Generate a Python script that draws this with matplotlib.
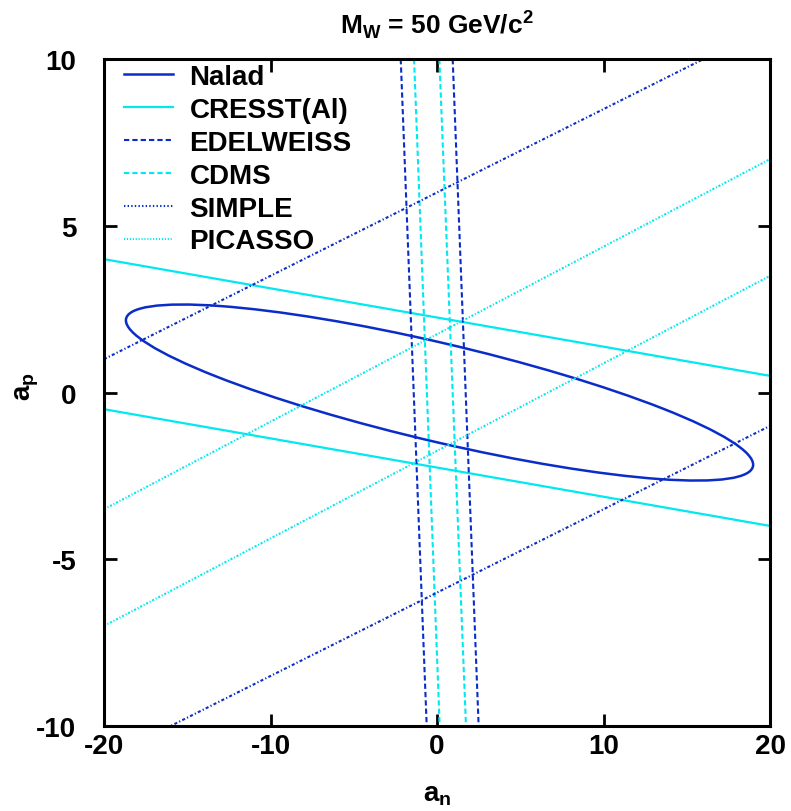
# exclusion bands in the (a_n, a_p) plane, M_W = 50 GeV/c^2

import matplotlib
matplotlib.use('Agg')
from matplotlib import pyplot as plt
from matplotlib.patches import Ellipse
from matplotlib.lines import Line2D

plt.rcParams['font.family'] = ['Liberation Sans', 'DejaVu Sans']
plt.rcParams['font.weight'] = 'bold'
plt.rcParams['lines.scale_dashes'] = False
plt.rcParams['axes.unicode_minus'] = False

dark = '#0a2cc8'
cyan = '#00e8f0'

# Nalad ellipse (centre, semi-axes, tilt in degrees)
nalad_center = (0.15, 0.0)
nalad_semi = (18.96, 1.50)
nalad_angle = -6.6

# bands given by their edges, a_p at a_n = -20 and 20
band_x = [-20, 20]
cresst_upper = [4.0, 0.5]
cresst_lower = [-0.5, -4.0]
simple_upper = [1.0, 11.0]
simple_lower = [-11.0, -1.0]
picasso_upper = [-3.5, 7.0]
picasso_lower = [-7.0, 3.5]

# nearly vertical bands, a_n at a_p = 10 and -10
band_y = [10, -10]
edelweiss_left = [-2.18, -0.62]
edelweiss_right = [0.94, 2.50]
cdms_left = [-1.38, 0.16]
cdms_right = [0.14, 1.74]

labels = ['Nalad', 'CRESST(Al)', 'EDELWEISS', 'CDMS', 'SIMPLE', 'PICASSO']

fig = plt.figure(figsize=(7.91, 8.12), dpi=100)
ax = fig.add_axes([0.1315, 0.1047, 0.842, 0.8213])

ell = Ellipse(nalad_center, 2 * nalad_semi[0], 2 * nalad_semi[1], angle=nalad_angle,
              fill=False, edgecolor=dark, lw=1.8)
ax.add_patch(ell)

dash = (0, (3.8, 2.2))
simple_ls = (0, (2.2, 1.6, 0.9, 1.6))
picasso_ls = (0, (1.5, 1.3, 0.8, 1.3))

ax.plot(band_x, cresst_upper, color=cyan, lw=1.6)
ax.plot(band_x, cresst_lower, color=cyan, lw=1.6)
ax.plot(edelweiss_left, band_y, color=dark, lw=1.5, ls=dash)
ax.plot(edelweiss_right, band_y, color=dark, lw=1.5, ls=dash)
ax.plot(cdms_left, band_y, color=cyan, lw=1.5, ls=dash)
ax.plot(cdms_right, band_y, color=cyan, lw=1.5, ls=dash)
ax.plot(band_x, simple_upper, color=dark, lw=1.5, ls=simple_ls)
ax.plot(band_x, simple_lower, color=dark, lw=1.5, ls=simple_ls)
ax.plot(band_x, picasso_upper, color=cyan, lw=1.5, ls=picasso_ls)
ax.plot(band_x, picasso_lower, color=cyan, lw=1.5, ls=picasso_ls)

handles = [Line2D([], [], color=dark, lw=1.8),
           Line2D([], [], color=cyan, lw=1.6),
           Line2D([], [], color=dark, lw=1.5, ls=dash),
           Line2D([], [], color=cyan, lw=1.5, ls=dash),
           Line2D([], [], color=dark, lw=1.5, ls=(0, (1.0, 1.6))),
           Line2D([], [], color=cyan, lw=1.5, ls=(0, (0.8, 1.3)))]
ax.legend(handles, labels, loc='upper left', bbox_to_anchor=(0.03, 0.993),
          frameon=False, borderpad=0, borderaxespad=0, handlelength=1.76,
          handletextpad=0.6, labelspacing=0.25,
          prop={'size': 20, 'weight': 'bold'})

ax.set_xlim(-20, 20)
ax.set_ylim(-10, 10)
ax.set_xticks([-20, -10, 0, 10, 20])
ax.set_yticks([-10, -5, 0, 5, 10])
ax.tick_params(direction='in', length=9, width=2, top=True, right=True,
               labelsize=20)
ax.tick_params(axis='x', pad=5)
ax.tick_params(axis='y', pad=20)
for lab in ax.get_xticklabels() + ax.get_yticklabels():
    lab.set_fontweight('bold')
for s in ax.spines.values():
    s.set_linewidth(2.2)

ax.set_xlabel(r'a$_\mathregular{n}$', fontsize=20, fontweight='bold', labelpad=16)
ax.set_ylabel(r'a$_\mathregular{p}$', fontsize=20, fontweight='bold')
ax.yaxis.set_label_coords(-0.095, 0.51)
ax.set_title(r'M$_\mathregular{W}$ = 50 GeV/c$^\mathregular{2}$', fontsize=19,
             fontweight='bold', pad=19)

plt.savefig('out.png', dpi=100)
